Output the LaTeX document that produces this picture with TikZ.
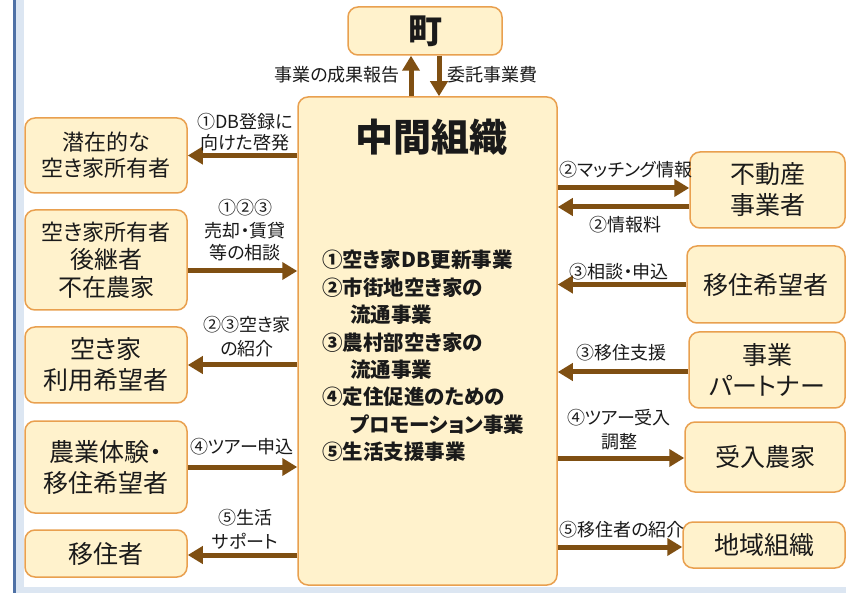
\documentclass[tikz,border=0pt]{standalone}
\usepackage{fontspec}
\setmainfont{Noto Sans CJK JP}[RawFeature=+palt]
\usetikzlibrary{arrows.meta}
\definecolor{boxfill}{HTML}{FFF2CC}
\definecolor{boxline}{HTML}{E9A04F}
\definecolor{arrbrown}{HTML}{7F4F12}
\definecolor{bluel}{HTML}{4F71A6}
\definecolor{bluebg}{HTML}{DCE6F2}
\definecolor{txt}{HTML}{1A1A1A}
\begin{document}
\begin{tikzpicture}[x=1pt,y=-1pt,
 box/.style={draw=boxline, fill=boxfill, line width=1.5pt, rounded corners=10pt, align=center, inner sep=0pt, text=txt},
 bigtxt/.style={font=\fontsize{25}{31}\selectfont},
 arr/.style={draw=arrbrown, line width=5pt, -{Triangle[length=15pt,width=17pt]}},
 lab/.style={align=center, inner sep=0pt, text=txt, font=\fontsize{18}{22}\selectfont},
 li/.style={anchor=base west, inner sep=0pt, font=\bfseries\fontsize{20.5}{24}\selectfont, text=txt}]
\useasboundingbox (0,0) rectangle (846,593);
\fill[white] (0,0) rectangle (846,593);
\fill[bluebg] (16,0) rectangle (24,593);
\fill[bluebg] (16,587) rectangle (846,593);
\fill[bluel] (13,0) rectangle (16,593);

% top and centre
\node[box, minimum width=154pt, minimum height=48pt, font=\bfseries\fontsize{34}{36}\selectfont] (machi) at (425,31) {町};
\node[box, minimum width=259pt, minimum height=488pt] (org) at (427.5,341) {};
\node[font=\bfseries\fontsize{38}{40}\selectfont, inner sep=0pt, text=txt] (orgtitle) at (431,137) {中間組織};
\node[li] (li1) at (322,268) {①空き家DB更新事業};
\node[li] (li2) at (322,295.4) {②市街地空き家の};
\node[li] (li3) at (350,322.8) {流通事業};
\node[li] (li4) at (322,350.2) {③農村部空き家の};
\node[li] (li5) at (350,377.6) {流通事業};
\node[li] (li6) at (322,405) {④定住促進のための};
\node[li] (li7) at (350,432.4) {プロモーション事業};
\node[li] (li8) at (322,459.8) {⑤生活支援事業};

% left boxes
\node[box, minimum width=162pt, minimum height=75pt, font=\fontsize{22}{26}\selectfont] (L1) at (106,155.5) {潜在的な\\空き家所有者};
\node[box, minimum width=162pt, minimum height=100pt, font=\fontsize{24}{28}\selectfont] (L2) at (106,260) {{\fontsize{22}{28}\selectfont 空き家所有者}\\後継者\\不在農家};
\node[box, minimum width=162pt, minimum height=76pt, bigtxt] (L3) at (106,365) {空き家\\利用希望者};
\node[box, minimum width=162pt, minimum height=92pt, bigtxt] (L4) at (106,467) {農業体験・\\移住希望者};
\node[box, minimum width=162pt, minimum height=47pt, bigtxt] (L5) at (106,553.5) {移住者};

% right boxes
\node[box, minimum width=155pt, minimum height=76pt, bigtxt] (R1) at (767.5,190) {不動産\\事業者};
\node[box, minimum width=158pt, minimum height=77pt, bigtxt] (R2) at (766,284.5) {移住希望者};
\node[box, minimum width=156pt, minimum height=76pt, bigtxt] (R3) at (767,370) {事業\\パートナー};
\node[box, minimum width=160pt, minimum height=70pt, bigtxt] (R4) at (765,457) {受入農家};
\node[box, minimum width=162pt, minimum height=46pt, bigtxt] (R5) at (764,545) {地域組織};

% top arrows
\coordinate (up1) at ([xshift=-14pt]machi.south);
\coordinate (dn1) at ([xshift=14pt]machi.south);
\draw[arr] (up1 |- org.north) -- (up1);
\draw[arr] (dn1) -- (dn1 |- org.north);
\node[lab, anchor=east] (t1) at (400,75) {事業の成果報告};
\node[lab, anchor=west] (t2) at (447,75) {委託事業費};

% left arrows
\draw[arr] (org.west |- L1.east) -- (L1.east);
\coordinate (a2) at ([yshift=-11pt]L2.east);
\draw[arr] (a2) -- (a2 -| org.west);
\draw[arr] (org.west |- L3.east) -- (L3.east);
\draw[arr] (L4.east) -- (L4.east -| org.west);
\coordinate (a5) at ([yshift=-1.5pt]L5.east);
\draw[arr] (a5 -| org.west) -- (a5);

\node[lab, font=\fontsize{18}{21}\selectfont] (la1) at (245,132.5) {①DB登録に\\向けた啓発};
\node[lab, font=\fontsize{18}{22.5}\selectfont] (la2) at (245,230.5) {①②③\\売却・賃貸\\等の相談};
\node[lab, font=\fontsize{18}{24}\selectfont] (la3) at (247,337) {②③空き家\\の紹介};
\node[lab] (la4) at (242,447) {④ツアー申込};
\node[lab, font=\fontsize{18}{24}\selectfont] (la5) at (245,529) {⑤生活\\サポート};

% right arrows
\coordinate (r1a) at ([yshift=2pt]R1.west);
\coordinate (r1b) at ([yshift=-17pt]R1.west);
\draw[arr] (r1a -| org.east) -- (r1a);
\draw[arr] (r1b) -- (r1b -| org.east);
\draw[arr] (R2.west) -- (R2.west -| org.east);
\coordinate (r3) at ([yshift=-2pt]R3.west);
\draw[arr] (r3) -- (r3 -| org.east);
\coordinate (r4) at ([yshift=-1pt]R4.west);
\draw[arr] (r4 -| org.east) -- (r4);
\coordinate (r5) at ([yshift=-2pt]R5.west);
\draw[arr] (r5 -| org.east) -- (r5);

\node[lab] (ra1) at (626,170) {②マッチング情報};
\node[lab] (ra2) at (625,225) {②情報料};
\node[lab] (ra3) at (619,272) {③相談・申込};
\node[lab] (ra4) at (621,353) {③移住支援};
\node[lab, font=\fontsize{18}{24}\selectfont] (ra5) at (619,430) {④ツアー受入\\調整};
\node[lab] (ra6) at (622,530) {⑤移住者の紹介};
\end{tikzpicture}
\end{document}
